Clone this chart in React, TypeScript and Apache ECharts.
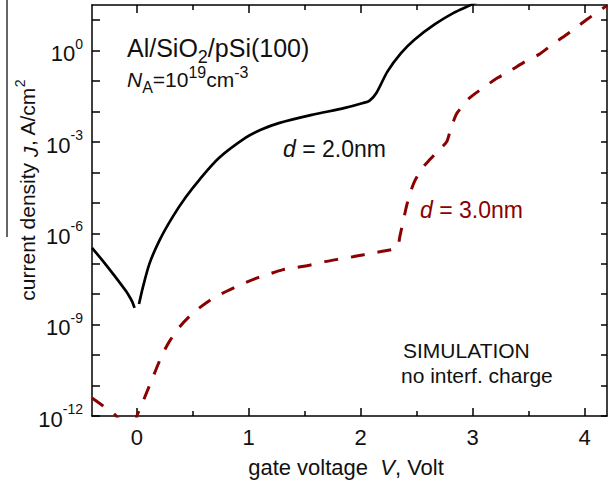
import React, { useEffect, useRef } from "react";
import * as echarts from "echarts";

// gate voltage V (Volt) and log10 of current density J (A/cm^2)
const vD20Left = [-0.4, -0.3, -0.2, -0.1, -0.07, -0.04, -0.02];
const logJD20Left = [-6.48, -6.92, -7.39, -7.88, -8.05, -8.25, -8.45];

const vD20Right = [0.02, 0.056, 0.115, 0.204, 0.322, 0.44, 0.559, 0.736, 0.973, 1.108, 1.268, 1.563, 1.859, 2.021, 2.08, 2.14, 2.24, 2.36, 2.48, 2.66, 2.83, 2.97, 3.05];
const logJD20Right = [-8.32, -7.75, -6.98, -6.22, -5.45, -4.8, -4.24, -3.52, -2.86, -2.6, -2.38, -2.11, -1.88, -1.72, -1.64, -1.39, -0.68, -0.08, 0.36, 0.86, 1.24, 1.48, 1.62];

const vD30 = [-0.4, -0.3, -0.2, -0.1, -0.01, 0.0, 0.035, 0.089, 0.151, 0.222, 0.293, 0.381, 0.47, 0.559, 0.683, 0.798, 0.931, 1.064, 1.18, 1.3, 1.43, 1.55, 1.68, 1.8, 1.93, 2.04, 2.18, 2.3, 2.33, 2.35, 2.38, 2.41, 2.44, 2.48, 2.55, 2.62, 2.67, 2.73, 2.77, 2.8, 2.83, 2.86, 2.92, 2.97, 3.09, 3.22, 3.34, 3.45, 3.59, 3.71, 3.84, 3.96, 4.08, 4.2];
const logJD30 = [-11.41, -11.67, -11.94, -12.3, -12.3, -12.01, -11.71, -11.22, -10.66, -10.03, -9.54, -9.08, -8.73, -8.45, -8.13, -7.91, -7.68, -7.48, -7.34, -7.2, -7.12, -7.04, -6.93, -6.85, -6.77, -6.69, -6.6, -6.52, -6.47, -6.1, -5.6, -5.1, -4.7, -4.3, -3.86, -3.57, -3.37, -3.15, -2.98, -2.62, -2.3, -2.05, -1.78, -1.56, -1.23, -0.9, -0.65, -0.4, -0.13, 0.2, 0.53, 0.86, 1.18, 1.48];

const xMajorTicks = [0, 1, 2, 3, 4];
const xMinorTicks = [0.5, 1.5, 2.5, 3.5];
const yTicks = [-12, -11, -10, -9, -8, -7, -6, -5, -4, -3, -2, -1, 0, 1];
const yLabelExps = [-12, -9, -6, -3, 0];

const FONT = '"Liberation Sans", Arial, Helvetica, sans-serif';
const RED = "#8b0000";

const pairs = (xs: number[], ys: number[]) => xs.map((x, i) => [x, ys[i]]);

type Part = { t: string; size: number; dy: number; italic?: boolean };

const measure = (t: string, size: number, italic?: boolean) => {
  const c = document.createElement("canvas").getContext("2d");
  if (!c) return t.length * size * 0.55;
  c.font = `${italic ? "italic " : ""}${size}px ${FONT}`;
  return c.measureText(t).width;
};

const runText = (x0: number, y0: number, parts: Part[], fill: string) => {
  let x = x0;
  const out: any[] = [];
  for (const p of parts) {
    out.push({
      type: "text", x, y: y0 + p.dy,
      style: {
        text: p.t, align: "left", verticalAlign: "middle", fontFamily: FONT,
        fontSize: p.size, fontStyle: p.italic ? "italic" : "normal", fill,
      },
    });
    x += measure(p.t, p.size, p.italic);
  }
  return out;
};

export default function App() {
  const ref = useRef<HTMLDivElement>(null);
  useEffect(() => {
    if (!ref.current) return;
    const chart = echarts.init(ref.current, null, { renderer: "svg" });
    const axisLine = { show: true, onZero: false, lineStyle: { color: "#000", width: 1.5 } };
    const noLine = { show: false, onZero: false };
    const tok = (size: number, extra: any = {}) => ({ fontFamily: FONT, fontSize: size, color: "#000", ...extra });
    const gtok = (size: number, fill: string, extra: any = {}) => ({ fontFamily: FONT, fontSize: size, fill, ...extra });
    const xBase = { type: "value", min: -0.4, max: 4.2, splitLine: { show: false } };
    const yBase = { type: "value", min: -12, max: 1.5, splitLine: { show: false } };
    const tickStyle = { color: "#000", width: 1.5 };

    const line1 = runText(127, 48, [
      { t: "Al/SiO", size: 25, dy: 0 },
      { t: "2", size: 18, dy: 9 },
      { t: "/pSi(100)", size: 25, dy: 0 },
    ], "#111");
    const line2 = runText(127, 79, [
      { t: "N", size: 21, dy: 0, italic: true },
      { t: "A", size: 16, dy: 8 },
      { t: "=10", size: 21, dy: 0 },
      { t: "19", size: 16, dy: -7 },
      { t: "cm", size: 21, dy: 0 },
      { t: "-3", size: 16, dy: -7 },
    ], "#111");

    chart.setOption({
      animation: false,
      grid: { left: 92, right: 3, top: 5, bottom: 67 },
      xAxis: [
        {
          ...xBase, position: "bottom", axisLine,
          axisTick: { inside: true, length: 8, customValues: xMajorTicks, lineStyle: tickStyle },
          axisLabel: { customValues: xMajorTicks, fontFamily: FONT, fontSize: 22, color: "#111", margin: 10 },
        },
        {
          ...xBase, position: "bottom", axisLine: noLine,
          axisTick: { inside: true, length: 5, customValues: xMinorTicks, lineStyle: tickStyle },
          axisLabel: { show: false },
        },
        {
          ...xBase, position: "top", axisLine,
          axisTick: { inside: true, length: 8, customValues: xMajorTicks, lineStyle: tickStyle },
          axisLabel: { show: false },
        },
        {
          ...xBase, position: "top", axisLine: noLine,
          axisTick: { inside: true, length: 5, customValues: xMinorTicks, lineStyle: tickStyle },
          axisLabel: { show: false },
        },
      ],
      yAxis: [
        {
          ...yBase, position: "left", axisLine,
          axisTick: { inside: true, length: 8, customValues: yTicks, lineStyle: tickStyle },
          axisLabel: {
            customValues: yLabelExps, margin: 9,
            formatter: (v: number) => `{b|10}{s|${v}}`,
            rich: {
              b: tok(22, { lineHeight: 28, verticalAlign: "bottom", color: "#111" }),
              s: tok(14, { lineHeight: 14, verticalAlign: "top", color: "#111" }),
            },
          },
        },
        {
          ...yBase, position: "right", axisLine,
          axisTick: { inside: true, length: 6, customValues: yTicks, lineStyle: tickStyle },
          axisLabel: { show: false },
        },
      ],
      series: [
        {
          type: "line", data: pairs(vD20Left, logJD20Left), showSymbol: false, smooth: 0.3,
          lineStyle: { color: "#000", width: 2.7 }, xAxisIndex: 0, yAxisIndex: 0,
        },
        {
          type: "line", data: pairs(vD20Right, logJD20Right), showSymbol: false, smooth: 0.3,
          lineStyle: { color: "#000", width: 2.7 }, xAxisIndex: 0, yAxisIndex: 0,
        },
        {
          type: "line", data: pairs(vD30, logJD30), showSymbol: false, smooth: 0.25,
          lineStyle: { color: RED, width: 3, type: [14, 13], cap: "butt" }, xAxisIndex: 0, yAxisIndex: 0,
        },
      ],
      graphic: [
        { type: "line", shape: { x1: 7, y1: 0, x2: 7, y2: 237 }, style: { stroke: "#333", lineWidth: 1.5 } },
        {
          type: "text", x: 27, y: 190, rotation: Math.PI / 2,
          style: {
            text: "current density {i|J}, A/cm{s|2}", align: "center", verticalAlign: "middle",
            fontFamily: FONT, fontSize: 21, fill: "#111",
            rich: {
              i: gtok(21, "#111", { fontStyle: "italic", lineHeight: 28, verticalAlign: "bottom" }),
              s: gtok(14, "#111", { lineHeight: 14, verticalAlign: "top" }),
            },
          },
        },
        {
          type: "text", x: 346, y: 467,
          style: {
            text: "gate voltage  {i|V}, Volt", align: "center", verticalAlign: "middle",
            fontFamily: FONT, fontSize: 22, fill: "#111",
            rich: { i: gtok(22, "#111", { fontStyle: "italic" }) },
          },
        },
        ...line1,
        ...line2,
        {
          type: "text", x: 283, y: 149,
          style: {
            text: "{i|d} = 2.0nm", align: "left", verticalAlign: "middle",
            fontFamily: FONT, fontSize: 23, fill: "#111",
            rich: { i: gtok(23, "#111", { fontStyle: "italic" }) },
          },
        },
        {
          type: "text", x: 420, y: 210,
          style: {
            text: "{i|d} = 3.0nm", align: "left", verticalAlign: "middle",
            fontFamily: FONT, fontSize: 23, fill: RED,
            rich: { i: gtok(23, RED, { fontStyle: "italic" }) },
          },
        },
        {
          type: "text", x: 403, y: 350,
          style: { text: "SIMULATION", align: "left", verticalAlign: "middle", fontFamily: FONT, fontSize: 21, fill: "#111" },
        },
        {
          type: "text", x: 401, y: 375,
          style: { text: "no interf. charge", align: "left", verticalAlign: "middle", fontFamily: FONT, fontSize: 21, fill: "#111" },
        },
      ],
    });
    return () => chart.dispose();
  }, []);
  return <div ref={ref} style={{ width: 610, height: 483, position: "absolute", left: 0, top: 0 }} />;
}
